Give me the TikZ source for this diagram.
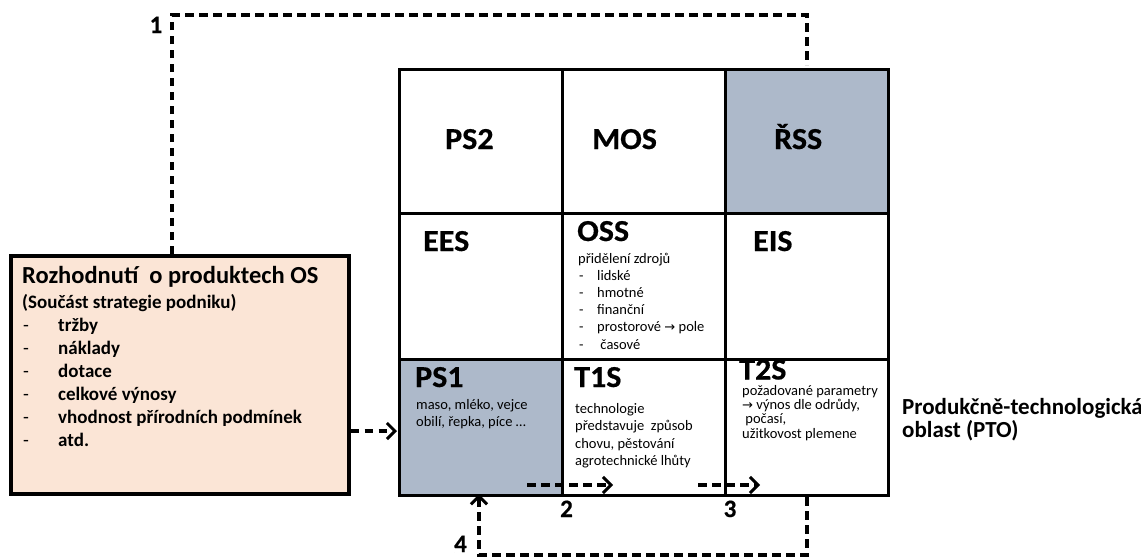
\documentclass[tikz,border=0pt]{standalone}
\usepackage{fontspec}
\setmainfont{Carlito}
\newfontfamily\labelfont[FakeStretch=1.05,FakeBold=0.5]{Carlito}
\newfontfamily\heavyfont[FakeBold=0.5]{Carlito}
\newfontfamily\symfont{DejaVu Sans}
\usetikzlibrary{arrows.meta}
\definecolor{cellgray}{HTML}{ADB9CA}
\definecolor{peach}{HTML}{FBE5D6}
\newcommand{\fs}[1]{\fontsize{#1}{#1}\selectfont}
\newcommand{\rarr}{{\symfont\fontsize{13}{13}\selectfont →}}

\begin{document}
\begin{tikzpicture}[x=1pt,y=-1pt,
  cell/.style={draw, line width=3.2pt, minimum width=163pt, inner sep=0pt, anchor=north west},
  shaded/.style={fill=cellgray},
  big/.style={anchor=base west, inner sep=0pt, font=\labelfont\bfseries\fs{30.5}},
  body/.style={anchor=base west, inner sep=0pt, font=\fs{14.5}},
  boxtext/.style={anchor=base west, inner sep=0pt, font=\bfseries\fs{19}},
  num/.style={anchor=base, inner sep=0pt, font=\heavyfont\bfseries\fs{25}},
  link/.style={line width=3.3pt, dash pattern=on 8.5pt off 5.5pt},
  linkarrow/.style={link, -{Straight Barb[length=8pt,width=16pt,line width=3pt]}}
]
\useasboundingbox (0,0) rectangle (1141,557);

% --- the 3x3 grid ---------------------------------------------------------
\node[cell, minimum height=144pt] (ps2) at (398,68) {};
\node[cell, minimum height=144pt] (mos) at (561,68) {};
\node[cell, shaded, minimum height=144pt] (rss) at (724,68) {};
\node[cell, minimum height=146pt] (ees) at (398,212) {};
\node[cell, minimum height=146pt] (oss) at (561,212) {};
\node[cell, minimum height=146pt] (eis) at (724,212) {};
\node[cell, shaded, minimum height=136pt] (ps1) at (398,358) {};
\node[cell, minimum height=136pt] (t1s) at (561,358) {};
\node[cell, minimum height=136pt] (t2s) at (724,358) {};

% top row labels
\node[big] (ps2l) at (445,149) {PS2};
\node[big] (mosl) at (592,149) {MOS};
\node[big] (rssl) at (774,149) {ŘSS};
% middle row labels
\node[big] (eesl) at (423,251) {EES};
\node[big] (ossl) at (577,241) {OSS};
\node[big] (eisl) at (753,251) {EIS};

% OSS content
\node[body] (oss0) at (578,263) {přidělení zdrojů};
\foreach \t [count=\i] in {lidské, hmotné, finanční, {prostorové \rarr{} pole}, {\ časové}} {
  \node[body] (ossd\i) at (579,263+17.2*\i) {-};
  \node[body] (ossi\i) at (597,263+17.2*\i) {\t};
}

% bottom row labels
\node[big] (ps1l) at (415,387) {PS1};
\node[body] (ps1a) at (416,409) {maso, mléko, vejce};
\node[body] (ps1b) at (416,426) {obilí, řepka, píce …};

\node[big] (t1sl) at (574,387) {T1S};
\foreach \t [count=\i] in {technologie, {představuje\ \ způsob}, {chovu, pěstování}, {agrotechnické lhůty}} {
  \node[body] (t1s\i) at (575,395.5+17.6*\i) {\t};
}

\node[big] (t2sl) at (739,379.5) {T2S};
\foreach \t [count=\i] in {požadované parametry, {\rarr{} výnos dle odrůdy,}, {\ počasí,}, užitkovost plemene} {
  \node[body] (t2s\i) at (742,381+14.3*\i) {\t};
}

% --- decision box -----------------------------------------------------------
\node[draw, line width=3.6pt, fill=peach, minimum width=338pt, minimum height=238pt,
      inner sep=0pt, anchor=north west] (dec) at (9,254) {};
\node[boxtext, font=\bfseries\fs{24.5}] (dectitle) at (22,283) {Rozhodnutí\ \ o produktech OS};
\node[boxtext] (decsub) at (22,308) {(Součást strategie podniku)};
\foreach \t [count=\i] in {tržby, náklady, dotace, celkové výnosy, vhodnost přírodních podmínek, atd.} {
  \node[boxtext, font=\fs{19}] (decd\i) at (23,308+23*\i) {-};
  \node[boxtext] (deci\i) at (58,308+23*\i) {\t};
}

% --- side label -------------------------------------------------------------
\node[anchor=base west, inner sep=0pt, font=\bfseries\fs{23}] (pto1) at (902,414) {Produkčně-technologická};
\node[anchor=base west, inner sep=0pt, font=\bfseries\fs{23}] (pto2) at (902,437) {oblast (PTO)};

% --- dashed links -----------------------------------------------------------
% 1: decision box up and over to ŘSS
\coordinate (c1a) at (172,15);
\coordinate (c1b) at (807,15);
\draw[link] (dec.north -| c1a) -- (c1a) -- (c1b) -- ([yshift=3pt]c1b |- rss.north);
\node[num] (n1) at (156,33) {1};

% decision box into PS1
\coordinate (c0) at (0,431);
\draw[linkarrow] (dec.east |- c0) -- ([xshift=-1pt]ps1.west |- c0);

% 2 and 3: along the bottom row
\coordinate (c2a) at (527,485);
\coordinate (c2b) at (613,485);
\coordinate (c3a) at (698,485);
\coordinate (c3b) at (760,485);
\draw[linkarrow] (c2a) -- (c2b);
\draw[linkarrow] (c3a) -- (c3b);
\node[num] (n2) at (566.5,517) {2};
\node[num] (n3) at (730,517) {3};

% 4: from T2S back under the grid to PS1
\coordinate (c4a) at (807,555);
\coordinate (c4b) at (479,555);
\draw[linkarrow] (c4a |- t2s.south) -- (c4a) -- (c4b) -- ([yshift=3pt]c4b |- ps1.south);
\node[num] (n4) at (460.5,552) {4};
\end{tikzpicture}
\end{document}
